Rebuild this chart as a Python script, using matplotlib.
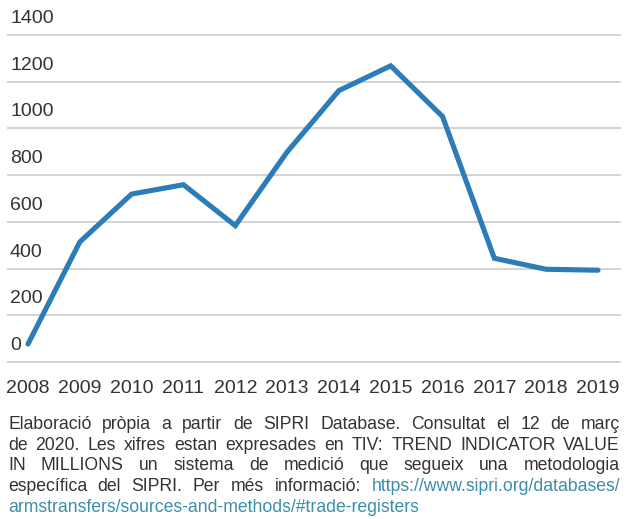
import matplotlib
matplotlib.use('Agg')
import matplotlib.pyplot as plt
import matplotlib.transforms as mtransforms
from matplotlib import font_manager

# ---- data ----
years = [2008, 2009, 2010, 2011, 2012, 2013, 2014, 2015, 2016, 2017, 2018, 2019]
values = [77, 514, 719, 759, 584, 899, 1162, 1268, 1051, 444, 397, 393]
y_ticks = [0, 200, 400, 600, 800, 1000, 1200, 1400]

note_lines = [
    ["Elaboració pròpia a partir de SIPRI Database. Consultat el 12 de març", ""],
    ["de 2020. Les xifres estan expresades en TIV: TREND INDICATOR VALUE", ""],
    ["IN MILLIONS un sistema de medició que segueix una metodologia", ""],
    ["específica del SIPRI. Per més informació:", "https://www.sipri.org/databases/"],
    ["", "armstransfers/sources-and-methods/#trade-registers"],
]

# ---- style ----
W, H = 627, 519
LINE_COLOR = '#2c7cb8'
GRID_COLOR = '#d3d3d3'
TEXT_COLOR = '#333333'
LINK_COLOR = '#3b8fa9'

available = {f.name for f in font_manager.fontManager.ttflist}
tick_font = ['Liberation Sans', 'DejaVu Sans']
note_font = ['Liberation Sans', 'DejaVu Sans']
note_size = 12.7

fig = plt.figure(figsize=(W / 100, H / 100), dpi=100)
fig.patch.set_facecolor('white')

ax_left, ax_right, ax_top, ax_bottom = 8, 620, 35, 362
ax = fig.add_axes([ax_left / W, 1 - ax_bottom / H,
                   (ax_right - ax_left) / W, (ax_bottom - ax_top) / H])
x = list(range(len(years)))
ax.plot(x, values, color=LINE_COLOR, lw=3.7, solid_capstyle='round',
        solid_joinstyle='miter', zorder=3)
ax.set_xlim(-0.386, 11.425)
ax.set_ylim(0, 1400)
for v in y_ticks:
    ax.axhline(v, color=GRID_COLOR, lw=1.4, clip_on=False, zorder=1)
for s in ax.spines.values():
    s.set_visible(False)
ax.set_yticks([])
ax.set_xticks(x)
ax.set_xticklabels([str(y) for y in years], fontsize=14, color=TEXT_COLOR,
                   family=tick_font)
ax.tick_params(axis='x', length=0, pad=13)

# y labels sit above their gridlines
trans = mtransforms.blended_transform_factory(ax.transAxes, ax.transData) + \
    mtransforms.ScaledTranslation(0, 12 / 100, fig.dpi_scale_trans)
for v in y_ticks:
    ax.text(2 / (ax_right - ax_left), v, str(v), transform=trans, ha='left',
            va='baseline', fontsize=14, color=TEXT_COLOR, family=tick_font)

# ---- justified footnote ----
renderer = fig.canvas.get_renderer()
x0, x1 = 8, 620
baseline0, line_gap = 429, 20.75


def measure(word):
    t = fig.text(0, 0, word, fontsize=note_size, family=note_font)
    w = t.get_window_extent(renderer=renderer).width
    t.remove()
    return w

space_w = measure('a a') - measure('aa')

for i, (dark, link) in enumerate(note_lines):
    words = [(w, TEXT_COLOR) for w in dark.split()] + \
            [(w, LINK_COLOR) for w in link.split()]
    widths = [measure(w) for w, _ in words]
    last = (i == len(note_lines) - 1)
    if last or len(words) < 2:
        gap = space_w
    else:
        gap = (x1 - x0 - sum(widths)) / (len(words) - 1)
    xp = x0
    yb = baseline0 + i * line_gap
    for (w, c), wd in zip(words, widths):
        fig.text(xp / W, 1 - yb / H, w, fontsize=note_size, family=note_font,
                 color=c, ha='left', va='baseline')
        xp += wd + gap

fig.savefig('out.png', dpi=100)
